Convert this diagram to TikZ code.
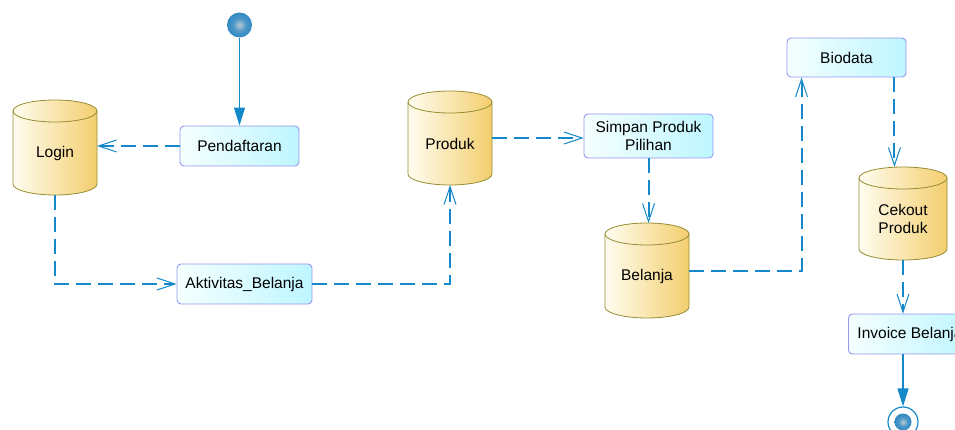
\documentclass[tikz,border=0pt]{standalone}
\usepackage{fontspec}
\setmainfont{Liberation Sans}
\usetikzlibrary{arrows.meta,shapes.geometric}

\definecolor{conn}{RGB}{20,136,200}
\definecolor{boxline}{RGB}{150,150,240}
\definecolor{boxL}{RGB}{245,255,255}
\definecolor{boxR}{RGB}{190,246,255}
\definecolor{cylL}{RGB}{255,253,240}
\definecolor{cylR}{RGB}{243,206,110}
\definecolor{cylline}{RGB}{150,140,50}
\definecolor{ballC}{RGB}{185,200,210}
\definecolor{ballM}{RGB}{70,150,200}
\definecolor{ballE}{RGB}{25,115,180}

\pgfdeclareradialshading{umlball}{\pgfpoint{0bp}{0bp}}{%
  color(0bp)=(ballC); color(14bp)=(ballM); color(42bp)=(ballE); color(50bp)=(ballE); color(100bp)=(ballE)}

% #1 name, #2 cx, #3 ytop, #4 ybot, #5 half width, #6 text
\newcommand{\dbcyl}[6]{%
  \shade[left color=cylL, right color=cylR]
    (#2-#5,#3+11) -- (#2-#5,#4-11)
    arc[start angle=180,end angle=0,x radius=#5,y radius=11]
    -- (#2+#5,#3+11)
    arc[start angle=0,end angle=-180,x radius=#5,y radius=11] -- cycle;
  \draw[cylline, line width=0.8pt]
    (#2-#5,#3+11) -- (#2-#5,#4-11)
    arc[start angle=180,end angle=0,x radius=#5,y radius=11]
    -- (#2+#5,#3+11);
  \draw[cylline, line width=0.8pt] (#2,#3+11) ellipse[x radius=#5, y radius=11];
  \node[cylhit, minimum width={2*#5}, minimum height={#4-#3}] (#1) at (#2,{(#3+#4)/2}) {};
  \node[txt, align=center] (#1t) at (#2,{(#3+11+#4)/2}) {#6};
}

\begin{document}
\begin{tikzpicture}[x=1pt,y=1pt,yscale=-1,
  txt/.style={font=\fontsize{15.5}{18}\selectfont, text=black},
  actbox/.style={rectangle, rounded corners=4pt, draw=boxline, line width=0.9pt,
    left color=boxL, right color=boxR, inner sep=0pt, txt, align=center},
  dasharrow/.style={draw=conn, line width=2pt, dash pattern=on 15pt off 7pt,
    -{Straight Barb[length=18pt,width=12pt,line width=1pt]}},
  solidarrow/.style={draw=conn, line width=1.3pt, -{Triangle[length=18pt,width=11pt]}},
  cylhit/.style={rectangle, inner sep=0pt, outer sep=0pt},
  umlstart/.style={circle, inner sep=0pt, shading=umlball},
]
\useasboundingbox (0,0) rectangle (955,430);
\clip (0,0) rectangle (955,430);

% cylinders
\dbcyl{login}{55}{100}{195}{42}{Login}
\dbcyl{produk}{450}{91}{185}{42}{Produk}
\dbcyl{belanja}{647}{223}{318}{42}{Belanja}
\dbcyl{cekout}{903}{167}{260}{44}{Cekout\\Produk}

% activity boxes
\node[actbox, minimum width=119, minimum height=40] (pend) at (239.5,146) {Pendaftaran};
\node[actbox, minimum width=135, minimum height=40] (akt) at (244.5,284) {Aktivitas\_Belanja};
\node[actbox, minimum width=129, minimum height=44] (simpan) at (648.5,136) {Simpan Produk\\Pilihan};
\node[actbox, minimum width=119, minimum height=39] (bio) at (846.5,57.5) {Biodata};
\node[actbox, anchor=west, minimum width=119, minimum height=40, inner xsep=9pt, align=left] (inv) at (848,334) {Invoice Belanja};

% start / end
\node[umlstart, minimum size=25pt] (start) at (239.5,25) {};
\node[circle, draw=conn, line width=1.2pt, fill=white, minimum size=30pt, inner sep=0pt] (endn) at (903,422) {};
\node[umlstart, minimum size=17pt] (endball) at (endn) {};

% connectors
\draw[solidarrow] (start) -- (pend);
\draw[dasharrow] (pend.west) -- (pend.west -| login.east);
\draw[dasharrow] (login.south) |- (akt.west);
\draw[dasharrow] (akt.east) -| (produk.south);
\draw[dasharrow] (produk.east) -- (produk.east -| simpan.west);
\draw[dasharrow] (simpan.south) -- (simpan.south |- belanja.north);
\coordinate (bioin) at ([xshift=15pt]bio.south west);
\draw[dasharrow] (belanja.east) -| (bioin);
\coordinate (bioout) at ([xshift=-12pt]bio.south east);
\draw[dasharrow] (bioout) -- (bioout |- cekout.north);
\draw[dasharrow] (cekout.south) -- (cekout.south |- inv.north);
\draw[solidarrow] (cekout.south |- inv.south) -- (endn.north);
\end{tikzpicture}
\end{document}
